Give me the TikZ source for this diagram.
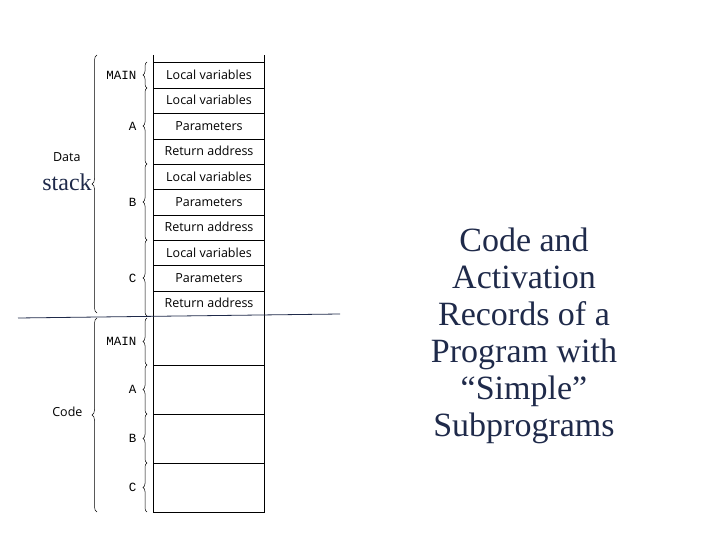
\documentclass[tikz,border=0pt]{standalone}
\usepackage{fontspec}
\setmainfont{Liberation Serif}
\setsansfont{Open Sans}
\setmonofont{Liberation Mono}
\usetikzlibrary{decorations.pathreplacing}
\definecolor{navy}{HTML}{1F2A4A}
\begin{document}
\begin{tikzpicture}[x=1pt,y=-1pt,
  cell/.style={font=\sffamily\fontsize{12.5}{13}\selectfont},
  br/.style={decorate,decoration={brace,amplitude=4pt},line width=0.5pt},
  bigbr/.style={decorate,decoration={brace,amplitude=5pt},line width=0.5pt},
  lab/.style={font=\ttfamily\fontsize{12.5}{13}\selectfont,anchor=east},
  big/.style={font=\sffamily\fontsize{12.5}{13}\selectfont,anchor=east}]
\useasboundingbox (0,0) rectangle (720,540);
% column
\draw[line width=0.6pt] (153,55) -- (153,512) -- (264,512) -- (264,55);
\foreach \y in {62,88,113,139,164,189,215,240,265,291,365,414,463}
  \draw[line width=0.6pt] (153,\y) -- (264,\y);
\foreach \y/\t in {75/Local variables,100/Local variables,126/Parameters,151/Return address,177/Local variables,202/Parameters,227/Return address,253/Local variables,278/Parameters,303/Return address}
  \node[cell] (c\y) at (209,\y) {\t};
% separator line
\coordinate (s1) at (18,318); \coordinate (s2) at (340,314);
\draw[navy,line width=0.8pt] (s1) -- (s2);
% small braces
\foreach \a/\b/\t in {62/88/MAIN,88/164/A,164/240/B,240/316/C,318/365/MAIN,365/414/A,414/463/B,463/512/C}{
  \draw[br] (147,\b) -- (147,\a);
  \node[lab] at (140,{(\a+\b)/2}) {\t};
}
\draw[bigbr] (97,313) -- (97,55);
\draw[bigbr] (97,512) -- (97,318);
\node[big] (data) at (84,157) {Data};
\node[big] (code) at (86,412) {Code};
\node[font=\fontsize{24}{25}\selectfont,text=navy] (stack) at (67,182) {stack};
\node[font=\fontsize{34}{37}\selectfont,text=navy,align=center] (title) at (524,336)
  {Code and\\Activation\\Records of a\\Program with\\“Simple”\\Subprograms};
\end{tikzpicture}
\end{document}
